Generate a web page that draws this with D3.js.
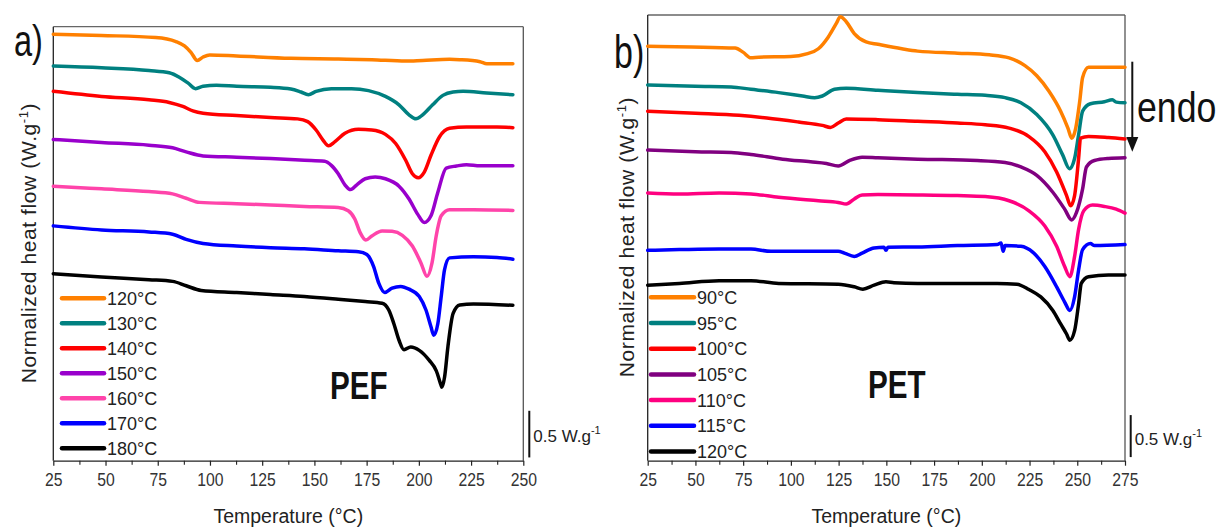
<!DOCTYPE html>
<html><head><meta charset="utf-8">
<script src="https://cdn.jsdelivr.net/npm/d3@7"></script>
<style>body{margin:0;background:#fff}</style>
</head><body><svg id="c" width="1222" height="528" xmlns="http://www.w3.org/2000/svg"></svg>
<script>
// ---------------- DATA ----------------
// x ticks
const pefTicks = [25,50,75,100,125,150,175,200,225,250];
const petTicks = [25,50,75,100,125,150,175,200,225,250,275];
// legend labels (isothermal crystallization temperatures)
const pefLabels = ["120°C","130°C","140°C","150°C","160°C","170°C","180°C"];
const petLabels = ["90°C","95°C","100°C","105°C","110°C","115°C","120°C"];

// PEF curves: [Temperature °C, normalized heat flow W/g (offset)]
const pef120 = [[25,4.572],[48.1,4.558],[74.0,4.536],[83.7,4.493],[87.8,4.446],[91.0,4.374],[93.9,4.291],[96.7,4.327],[99.9,4.349],[112.8,4.338],[138.7,4.313],[161.4,4.306],[177.5,4.298],[193.7,4.284],[201.8,4.291],[214.7,4.302],[219.6,4.298],[229.3,4.277],[232.5,4.255],[245,4.255]];
const pef130 = [[25,4.230],[48.1,4.212],[70.8,4.183],[80.5,4.158],[85.3,4.111],[89.4,4.050],[93.1,3.988],[96.7,4.013],[103.1,4.024],[112.8,4.013],[129.0,4.003],[138.7,3.985],[143.6,3.952],[147.1,3.923],[150.8,3.959],[158.1,3.988],[167.8,3.988],[175.9,3.967],[184.0,3.905],[190.5,3.815],[195.3,3.707],[198.6,3.664],[201.8,3.707],[206.6,3.815],[211.5,3.916],[216.4,3.952],[221.2,3.959],[232.5,3.941],[245,3.923]];
const pef140 = [[25,3.959],[48.1,3.905],[70.8,3.869],[80.5,3.840],[87.0,3.797],[91.8,3.750],[96.7,3.725],[112.8,3.700],[129.0,3.678],[141.9,3.664],[146.8,3.635],[150.8,3.545],[154.1,3.437],[156.8,3.375],[159.7,3.418],[164.6,3.509],[171.1,3.552],[177.5,3.545],[184.0,3.498],[188.9,3.400],[193.7,3.220],[196.9,3.076],[199.7,3.033],[202.6,3.094],[205.8,3.274],[209.9,3.473],[214.7,3.563],[222.8,3.577],[237.4,3.577],[245,3.570]];
const pef150 = [[25,3.444],[48.1,3.411],[70.8,3.382],[82.1,3.354],[88.6,3.310],[96.7,3.267],[112.8,3.253],[129.0,3.238],[145.2,3.220],[154.9,3.209],[158.1,3.166],[161.4,3.076],[164.6,2.957],[167.3,2.906],[170.3,2.957],[174.3,3.022],[179.1,3.040],[184.0,3.022],[190.5,2.943],[195.3,2.805],[199.4,2.643],[202.6,2.553],[205.8,2.625],[209.1,2.878],[213.1,3.137],[218.0,3.159],[222.8,3.173],[229.3,3.162],[245,3.162]];
const pef160 = [[25,2.943],[48.1,2.914],[70.8,2.885],[82.1,2.860],[88.6,2.813],[95.0,2.769],[112.8,2.755],[129.0,2.741],[145.2,2.726],[161.4,2.715],[166.2,2.679],[169.4,2.589],[171.9,2.445],[174.6,2.366],[177.5,2.409],[182.4,2.463],[187.2,2.459],[192.1,2.416],[196.9,2.301],[201.0,2.120],[203.9,1.976],[206.3,2.120],[208.3,2.409],[210.7,2.625],[214.7,2.690],[226.1,2.690],[245,2.683]];
const pef170 = [[25,2.517],[48.1,2.474],[70.8,2.452],[82.1,2.427],[88.6,2.373],[96.7,2.329],[112.8,2.301],[129.0,2.283],[145.2,2.272],[161.4,2.250],[171.1,2.239],[175.1,2.211],[178.3,2.084],[180.8,1.904],[183.7,1.803],[187.2,1.850],[191.3,1.868],[195.3,1.839],[200.2,1.760],[203.4,1.615],[205.8,1.435],[207.1,1.345],[209.1,1.471],[210.7,1.760],[212.3,2.048],[214.7,2.174],[226.1,2.185],[237.4,2.178],[245,2.160]];
const pef180 = [[25,2.005],[48.1,1.969],[70.8,1.940],[82.1,1.922],[88.6,1.875],[95.8,1.825],[112.8,1.803],[129.0,1.781],[145.2,1.760],[161.4,1.731],[174.3,1.706],[182.4,1.688],[185.6,1.615],[188.0,1.471],[190.5,1.291],[192.9,1.190],[196.1,1.219],[200.2,1.183],[205.0,1.075],[208.3,0.966],[210.7,0.804],[211.0,0.786],[212.3,0.894],[213.9,1.219],[216.4,1.579],[219.6,1.670],[226.1,1.680],[245,1.666]];

// PET curves
const pet90 = [[25,4.933],[47.9,4.925],[70.8,4.912],[74.9,4.864],[79.1,4.796],[83.2,4.804],[99.9,4.812],[108.2,4.844],[114.4,4.904],[119.6,5.045],[123.8,5.206],[125.9,5.286],[129.0,5.226],[133.2,5.085],[139.4,4.985],[145.6,4.957],[158.1,4.904],[166.4,4.876],[187.2,4.852],[203.9,4.832],[214.3,4.796],[222.6,4.703],[228.8,4.583],[235.1,4.402],[241.3,4.161],[245.1,3.960],[247.1,3.839],[249.2,3.960],[251.3,4.281],[252.8,4.563],[255.9,4.683],[262.1,4.683],[275,4.683]];
const pet95 = [[25,4.474],[50.0,4.458],[68.7,4.450],[79.1,4.422],[93.6,4.382],[106.1,4.342],[112.4,4.322],[116.5,4.342],[122.8,4.422],[129.0,4.434],[145.6,4.410],[166.4,4.382],[187.2,4.362],[201.8,4.350],[212.2,4.322],[220.5,4.261],[228.8,4.121],[237.2,3.879],[242.4,3.638],[245.9,3.477],[248.6,3.598],[250.7,3.879],[252.8,4.161],[256.9,4.249],[264.2,4.273],[268.4,4.297],[270.4,4.269],[275,4.261]];
const pet100 = [[25,4.161],[50.0,4.137],[72.8,4.112],[87.4,4.080],[104.0,4.032],[116.5,3.992],[120.7,3.968],[124.8,4.020],[129.0,4.068],[145.6,4.060],[166.4,4.040],[187.2,4.020],[201.8,4.000],[214.3,3.960],[224.7,3.859],[233.0,3.678],[239.2,3.437],[244.4,3.156],[246.5,3.035],[248.6,3.156],[250.7,3.598],[251.7,3.839],[255.9,3.859],[266.3,3.847],[275,3.831]];
const pet105 = [[25,3.698],[50.0,3.678],[68.7,3.670],[79.1,3.646],[95.7,3.590],[110.3,3.558],[118.6,3.538],[124.8,3.509],[131.1,3.578],[137.3,3.614],[145.6,3.606],[166.4,3.590],[197.6,3.574],[212.2,3.550],[220.5,3.497],[228.8,3.397],[237.2,3.196],[243.4,2.995],[247.1,2.866],[249.6,2.955],[252.8,3.236],[254.8,3.497],[259.0,3.574],[266.3,3.598],[275,3.606]];
const pet110 = [[25,3.188],[41.6,3.176],[62.4,3.188],[79.1,3.176],[93.6,3.136],[114.4,3.095],[124.8,3.075],[129.0,3.055],[133.2,3.116],[137.3,3.164],[145.6,3.168],[166.4,3.164],[187.2,3.156],[201.8,3.144],[214.3,3.095],[224.7,2.975],[233.0,2.794],[239.2,2.553],[243.4,2.312],[246.1,2.191],[248.6,2.432],[250.7,2.754],[253.4,2.975],[258.0,3.043],[264.2,3.027],[270.4,2.995],[275,2.947]];
const pet115 = [[25,2.504],[41.6,2.513],[62.4,2.521],[79.1,2.521],[89.5,2.492],[124.8,2.492],[128.0,2.472],[133.2,2.432],[137.3,2.472],[143.6,2.533],[148.8,2.541],[149.8,2.504],[150.8,2.541],[166.4,2.545],[187.2,2.561],[208.0,2.573],[210.1,2.593],[211.2,2.492],[212.2,2.561],[220.5,2.553],[226.8,2.480],[233.0,2.312],[239.2,2.070],[243.4,1.889],[246.1,1.789],[248.6,1.950],[250.7,2.271],[252.8,2.513],[256.9,2.585],[259.0,2.561],[275,2.573]];
const pet120 = [[25,2.090],[41.6,2.111],[62.4,2.143],[79.1,2.143],[93.6,2.111],[124.8,2.102],[133.2,2.070],[137.7,2.042],[143.6,2.090],[149.8,2.131],[154.0,2.119],[166.4,2.111],[187.2,2.111],[208.0,2.111],[218.4,2.102],[224.7,2.038],[230.9,1.950],[237.2,1.789],[241.3,1.628],[244.4,1.508],[246.1,1.435],[248.6,1.548],[250.7,1.869],[252.1,2.111],[255.9,2.191],[266.3,2.211],[275,2.211]];

// ---------------- STYLE / LAYOUT ----------------
const pefColors = ["#ff8000","#008080","#ff0000","#9900cc","#ff44aa","#0000ff","#000000"];
const petColors = ["#ff8000","#008080","#ff0000","#800080","#ff0080","#0000ff","#000000"];
const SANS = "'Liberation Sans', Arial, sans-serif";

const svg = d3.select("#c");

// condensed text helper (horizontal squeeze)
function narrowText(sel, x, y, txt, size, sx, bold){
  return sel.append("text").attr("transform",`translate(${x},${y}) scale(${sx},1)`)
    .attr("font-family",SANS).attr("font-size",size).attr("font-weight",bold?"bold":"normal")
    .attr("fill","#111").text(txt);
}

function drawPanel(o){
  const x = d3.scaleLinear().domain(o.xDomain).range(o.xRange);
  const y = d3.scaleLinear().domain(o.yDomain).range([o.bottom, o.top]);
  const g = svg.append("g");
  const [x0,x1] = o.xRange;

  // frame (top/right gray), left axis
  g.append("line").attr("x1",x0).attr("x2",x1).attr("y1",o.top).attr("y2",o.top).attr("stroke","#666").attr("stroke-width",1.3);
  g.append("line").attr("x1",x1).attr("x2",x1).attr("y1",o.top).attr("y2",o.bottom).attr("stroke","#555").attr("stroke-width",1.3);
  g.append("line").attr("x1",x0).attr("x2",x0).attr("y1",o.top).attr("y2",o.bottom).attr("stroke","#222").attr("stroke-width",1.3);

  // bottom axis major
  const axG = g.append("g").attr("transform",`translate(0,${o.bottom})`)
    .call(d3.axisBottom(x).tickValues(o.ticks).tickSize(5).tickSizeOuter(0).tickPadding(8).tickFormat(d3.format("d")));
  axG.select(".domain").attr("stroke","#222").attr("stroke-width",1.3);
  axG.selectAll(".tick line").attr("stroke","#222").attr("stroke-width",1.2);
  axG.selectAll(".tick text").attr("font-family",SANS).attr("font-size",17.5).attr("fill","#333")
    .attr("transform","scale(0.9,1)");
  // minor ticks
  const minors = o.ticks.slice(0,-1).map(t=>t+12.5);
  const mnG = g.append("g").attr("transform",`translate(0,${o.bottom})`)
    .call(d3.axisBottom(x).tickValues(minors).tickSize(4).tickFormat(""));
  mnG.select(".domain").remove();
  mnG.selectAll(".tick line").attr("stroke","#222").attr("stroke-width",1.1);

  // curves
  const line = d3.line().x(d=>x(d[0])).y(d=>y(d[1])).curve(d3.curveMonotoneX);
  o.series.forEach((s,i)=>{
    g.append("path").attr("d",line(s)).attr("fill","none").attr("stroke",o.colors[i])
      .attr("stroke-width",3.5).attr("stroke-linejoin","round").attr("stroke-linecap","round");
  });

  // legend
  const lg = g.append("g");
  o.labels.forEach((lab,i)=>{
    const yy = o.legY + i*o.legStep;
    lg.append("line").attr("x1",o.legX0).attr("x2",o.legX1).attr("y1",yy).attr("y2",yy)
      .attr("stroke",o.colors[i]).attr("stroke-width",4.5).attr("stroke-linecap","round");
    lg.append("text").attr("x",o.legX1+3).attr("y",yy+6.5).text(lab)
      .attr("font-family",SANS).attr("font-size",18).attr("fill","#222");
  });

  // axis titles
  g.append("text").attr("x",(x0+x1)/2).attr("y",523).attr("text-anchor","middle")
    .attr("font-family",SANS).attr("font-size",19.5).attr("fill","#222").text("Temperature (°C)");
  const yt = g.append("text").attr("transform",`translate(${o.yTitleX},${o.yTitleY}) rotate(-90)`)
    .attr("text-anchor","middle").attr("font-family",SANS).attr("font-size",21).attr("letter-spacing",0.6).attr("fill","#222");
  yt.append("tspan").text("Normalized heat flow (W.g");
  yt.append("tspan").attr("font-size",13).attr("dy",-8).text("-1");
  yt.append("tspan").attr("dy",8).text(")");

  // panel letter
  narrowText(g, o.letterX, o.letterY, o.letter, o.letterSize, 0.74, false);
  // material label
  narrowText(g, o.matX, o.matY, o.mat, 39, 0.76, true);

  // scale bar
  g.append("line").attr("x1",o.sbX).attr("x2",o.sbX).attr("y1",y(o.sbBase+0.5)).attr("y2",y(o.sbBase))
    .attr("stroke","#111").attr("stroke-width",2);
  const st = g.append("text").attr("x",o.sbX+4).attr("y",o.sbTextY).attr("font-family",SANS)
    .attr("font-size",17).attr("fill","#222");
  st.append("tspan").text("0.5 W.g");
  st.append("tspan").attr("font-size",11).attr("dy",-8).text("-1");
  return {x,y,g};
}

drawPanel({
  xDomain:[25,250], xRange:[53.3,523.3], yDomain:[0,4.652], top:26.7, bottom:460.7,
  ticks:pefTicks, series:[pef120,pef130,pef140,pef150,pef160,pef170,pef180], colors:pefColors, labels:pefLabels,
  legX0:62, legX1:104, legY:298.3, legStep:25,
  yTitleX:36, yTitleY:243, letter:"a)", letterX:14, letterY:56, letterSize:44,
  mat:"PEF", matX:330, matY:399, sbX:529.3, sbBase:0.035, sbTextY:442
});
drawPanel({
  xDomain:[25,275], xRange:[647.7,1125], yDomain:[0,5.306], top:15, bottom:460.7,
  ticks:petTicks, series:[pet90,pet95,pet100,pet105,pet110,pet115,pet120], colors:petColors, labels:petLabels,
  legX0:651, legX1:694, legY:297.3, legStep:25.7,
  yTitleX:634, yTitleY:237, letter:"b)", letterX:614, letterY:68, letterSize:46,
  mat:"PET", matX:868, matY:398, sbX:1130.7, sbBase:0.043, sbTextY:445
});

// endo arrow
svg.append("line").attr("x1",1132.3).attr("x2",1132.3).attr("y1",61.7).attr("y2",140).attr("stroke","#111").attr("stroke-width",2);
svg.append("path").attr("d",d3.line()([[1126.3,137],[1138.3,137],[1132.3,151.7]])+"Z").attr("fill","#111");
narrowText(svg, 1137, 121.7, "endo", 43, 0.83, false);
</script>
</body></html>
